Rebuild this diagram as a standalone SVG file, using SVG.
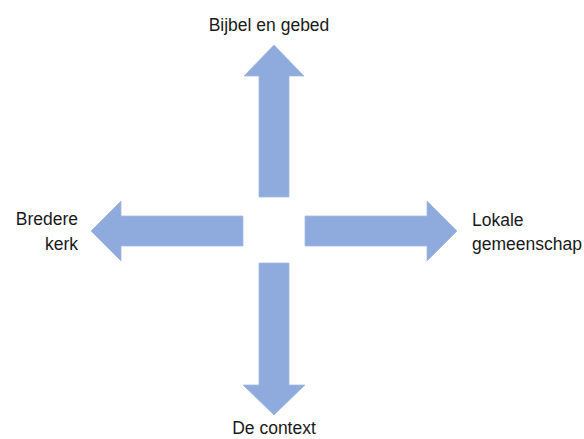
<svg xmlns="http://www.w3.org/2000/svg" width="584" height="439" viewBox="0 0 584 439">
<style>
.arrow{fill:#8FAADC;stroke:#A4BAE2;stroke-width:0.8}
.lbl{font-family:"Liberation Sans",Arial,sans-serif;font-size:17.5px;fill:#1a1a1a}
</style>
<rect width="584" height="439" fill="#ffffff"/>
<g id="connectors">
<polygon id="arrow-up" class="arrow" points="259,197 259,76 244,76 274,45 304,76 289,76 289,197"/>
<polygon id="arrow-down" class="arrow" points="259,263 259,385 243,385 274,415 305,385 289,385 289,263"/>
<polygon id="arrow-left" class="arrow" points="243,216 121,216 121,201 91,231 121,261 121,246 243,246"/>
<polygon id="arrow-right" class="arrow" points="305,216 427,216 427,201 457,231 427,261 427,246 305,246"/>
</g>
<g id="node-bijbel"><text class="lbl" x="269" y="31" text-anchor="middle">Bijbel en gebed</text></g>
<g id="node-bredere"><text class="lbl" x="78" y="225" text-anchor="end">Bredere</text><text class="lbl" x="78" y="250" text-anchor="end">kerk</text></g>
<g id="node-lokale"><text class="lbl" x="472" y="226">Lokale</text><text class="lbl" x="472" y="250">gemeenschap</text></g>
<g id="node-context"><text class="lbl" x="274" y="434" text-anchor="middle">De context</text></g>
</svg>
